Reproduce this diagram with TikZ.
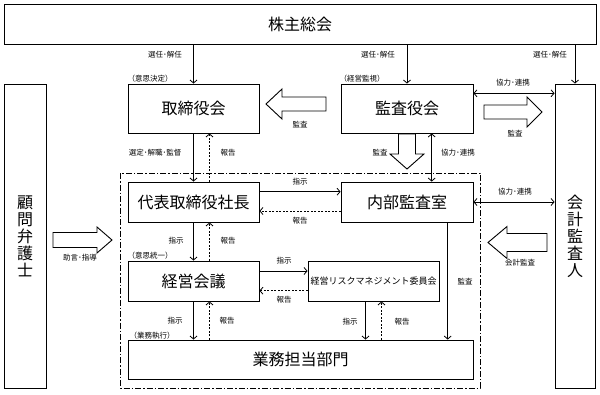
\documentclass[tikz,border=0pt]{standalone}
\usepackage{fontspec}
\setmainfont{Noto Sans CJK JP}
\usetikzlibrary{arrows.meta}
\tikzset{
  box/.style={draw, line width=0.9pt, inner sep=0pt, font=\fontsize{16}{17}\selectfont},
  lbl/.style={inner sep=0pt, font=\fontsize{7.5}{8}\selectfont},
  arr/.style={line width=0.8pt, -{Straight Barb[length=3pt,width=7pt]}},
  darr/.style={line width=0.8pt, {Straight Barb[length=3pt,width=7pt]}-{Straight Barb[length=3pt,width=7pt]}},
  rep/.style={line width=0.8pt, dash pattern=on 2pt off 1.5pt, -{Straight Barb[length=3pt,width=7pt]}},
  hollow/.style={draw, line width=0.9pt, fill=white, line join=miter},
  frame/.style={line width=0.9pt, dash pattern=on 6pt off 2pt on 1.5pt off 2pt}
}
\begin{document}
\begin{tikzpicture}[x=1pt,y=-1pt]
\useasboundingbox (0,0) rectangle (600,394);
% frame
\draw[frame] (120,173) rectangle (480,388);
% boxes
\node[box, minimum width=592pt, minimum height=40pt] (soukai) at (300,24) {株主総会};
\node[box, minimum width=131pt, minimum height=49pt] (tori) at (193.5,108.5) {取締役会};
\node[box, minimum width=132pt, minimum height=49pt] (kansa) at (407,108.5) {監査役会};
\node[box, minimum width=42pt, minimum height=304pt, align=center] (komon) at (25,236) {顧\\問\\弁\\護\\士};
\node[box, minimum width=40pt, minimum height=304pt, align=center] (kaikei) at (575,236) {会\\計\\監\\査\\人};
\node[box, minimum width=131pt, minimum height=40pt] (daihyo) at (193.5,202) {代表取締役社長};
\node[box, minimum width=132pt, minimum height=40pt] (naibu) at (407,202) {内部監査室};
\node[box, minimum width=131pt, minimum height=40pt] (keiei) at (193.5,281) {経営会議};
\node[box, minimum width=131pt, minimum height=40pt, font=\fontsize{9}{10}\selectfont] (risk) at (373.5,281) {経営リスクマネジメント委員会};
\node[box, minimum width=345pt, minimum height=39pt] (gyomu) at (300.5,359.5) {業務担当部門};
% from soukai
\draw[arr] (tori.north |- soukai.south) -- (tori.north);
\draw[arr] (kansa.north |- soukai.south) -- (kansa.north);
\draw[arr] (kaikei.north |- soukai.south) -- (kaikei.north);
\node[lbl] (l1) at (165,55) {選任･解任};
\node[lbl] (l2) at (378,55) {選任･解任};
\node[lbl] (l3) at (550,55) {選任･解任};
\node[lbl] (l4) at (150,79) {（意思決定）};
\node[lbl] (l5) at (362,79) {（経営監視）};
% tori <-> daihyo
\draw[arr] (tori.south) -- (daihyo.north);
\draw[rep] ([xshift=16pt]daihyo.north) -- ([xshift=16pt]tori.south);
\node[lbl] (l6) at (155,153) {選定･解職･監督};
\node[lbl] (l7) at (228,153) {報告};
% daihyo <-> keiei
\draw[arr] (daihyo.south) -- (keiei.north);
\draw[rep] ([xshift=16pt]keiei.north) -- ([xshift=16pt]daihyo.south);
\node[lbl] (l8) at (176,241) {指示};
\node[lbl] (l9) at (228,241) {報告};
\node[lbl] (l10) at (150,256) {（意思統一）};
% keiei <-> gyomu
\draw[arr] (keiei.south) -- (keiei.south |- gyomu.north);
\draw[rep] ([xshift=16pt]keiei.south |- gyomu.north) -- ([xshift=16pt]keiei.south);
\node[lbl] (l11) at (175,321) {指示};
\node[lbl] (l12) at (227,321) {報告};
\node[lbl] (l13) at (152,336) {（業務執行）};
% risk <-> gyomu
\draw[arr] ([xshift=-8pt]risk.south) -- ([xshift=-8pt]risk.south |- gyomu.north);
\draw[rep] ([xshift=8pt]risk.south |- gyomu.north) -- ([xshift=8pt]risk.south);
\node[lbl] (l14) at (350,322) {指示};
\node[lbl] (l15) at (402,322) {報告};
% daihyo <-> naibu
\draw[arr] ([yshift=10.3pt]daihyo.east) -- ([yshift=10.3pt]naibu.west);
\draw[rep] ([yshift=-9pt]naibu.west) -- ([yshift=-9pt]daihyo.east);
\node[lbl] (l16) at (300,182) {指示};
\node[lbl] (l17) at (300,221) {報告};
% keiei <-> risk
\draw[arr] ([yshift=10pt]keiei.east) -- ([yshift=10pt]risk.west);
\draw[rep] ([yshift=-9.7pt]risk.west) -- ([yshift=-9.7pt]keiei.east);
\node[lbl] (l18) at (284,261) {指示};
\node[lbl] (l19) at (284,300) {報告};
% naibu -> gyomu
\coordinate (nb) at ([xshift=40.7pt]naibu.south);
\draw[arr] (nb) -- (nb |- gyomu.north);
\node[lbl] (l20) at (465,282) {監査};
% cooperation
\draw[darr] ([yshift=15.2pt]kansa.east) -- ([yshift=15.2pt]kansa.east -| kaikei.west);
\node[lbl] (l21) at (513,83) {協力･連携};
\draw[darr] ([xshift=24.7pt]kansa.south) -- ([xshift=24.7pt]naibu.north);
\node[lbl] (l22) at (458,153) {協力･連携};
\draw[darr] (naibu.east) -- (naibu.east -| kaikei.west);
\node[lbl] (l23) at (515,192) {協力･連携};
% hollow arrows
\draw[hollow] (266,104) -- (282,89) -- (282,97) -- (326,97) -- (326,111) -- (282,111) -- (282,119) -- cycle;
\node[lbl] (l24) at (300,125) {監査};
\draw[hollow] (542,112) -- (527,97) -- (527,105) -- (484,105) -- (484,119) -- (527,119) -- (527,127) -- cycle;
\node[lbl] (l25) at (515,134) {監査};
\draw[hollow] (407,169) -- (390,154) -- (398.5,154) -- (398.5,134) -- (415.5,134) -- (415.5,154) -- (424,154) -- cycle;
\node[lbl] (l26) at (380,153) {監査};
\draw[hollow] (488,242.5) -- (507,226.5) -- (507,233.5) -- (547,233.5) -- (547,251.5) -- (507,251.5) -- (507,258.5) -- cycle;
\node[lbl] (l27) at (520,263) {会計監査};
\draw[hollow] (112,240) -- (97,227) -- (97,232.5) -- (53,232.5) -- (53,247.5) -- (97,247.5) -- (97,253) -- cycle;
\node[lbl] (l28) at (80,258) {助言･指導};
\end{tikzpicture}
\end{document}
